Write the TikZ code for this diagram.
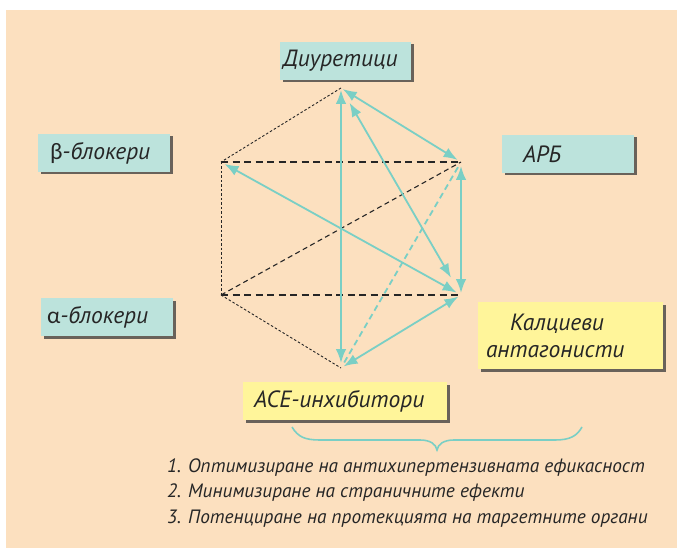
\documentclass[tikz,border=0pt]{standalone}
\usepackage{fontspec}
\setmainfont{PT Sans}
\newfontfamily\greekfont{Carlito}
\usetikzlibrary{arrows.meta,shadows}
\definecolor{peach}{HTML}{FCE0BF}
\definecolor{tealbox}{HTML}{BCE3DC}
\definecolor{yellowbox}{HTML}{FFF59A}
\definecolor{tealline}{HTML}{7ACFC5}
\definecolor{shadowgrey}{HTML}{5A5550}
\tikzset{
  lbl/.style={font=\itshape\fontsize{23.5}{27}\selectfont, text=black!85, inner xsep=0pt, inner ysep=0pt, align=left, anchor=center,
    drop shadow={shadow xshift=2.5pt, shadow yshift=-2.5pt, fill=shadowgrey, opacity=0.9}},
  tbox/.style={lbl, fill=tealbox},
  ybox/.style={lbl, fill=yellowbox},
  fine/.style={draw=black!85, line width=0.9pt, dash pattern=on 2.5pt off 2pt},
  bold/.style={draw=black!85, line width=1.6pt, dash pattern=on 7pt off 4.5pt},
  mid/.style={draw=black!85, line width=1.1pt, dash pattern=on 5pt off 3.5pt},
  arr/.style={draw=tealline, line width=1.8pt, {Latex[length=14pt,width=10.5pt]}-{Latex[length=14pt,width=10.5pt]}},
}
\begin{document}
\begin{tikzpicture}[x=1pt,y=-1pt]
\useasboundingbox (0,0) rectangle (677,548);
\fill[white] (0,0) rectangle (677,548);
\fill[peach] (6,10) rectangle (677,548);

% vertices
\coordinate (T) at (341,88);
\coordinate (UL) at (221,162);
\coordinate (UR) at (461,162);
\coordinate (LL) at (221,295);
\coordinate (LR) at (461,295);
\coordinate (B) at (341,368);

% boxes
\node[tbox, minimum height=38pt, text width=131pt] (diu) at (345.5,61) {\hspace*{3pt}Диуретици};
\node[tbox, minimum height=38pt, text width=132pt] (beta) at (104,153) {\hspace*{12pt}{\greekfont\upshape β}-блокери};
\node[tbox, minimum height=38pt, text width=132pt] (arb) at (568,154) {\hspace*{21pt}АРБ};
\node[tbox, minimum height=38pt, text width=132pt] (alpha) at (107,317) {\hspace*{6pt}{\greekfont\upshape α}-блокери};
\node[ybox, minimum height=67pt, text width=185pt] (calc) at (570.5,335.5) {\hspace*{32pt}Калциеви\\\hspace*{8pt}антагонисти};
\node[ybox, minimum height=38pt, text width=204pt] (ace) at (345,401) {\hspace*{11pt}ACE-инхибитори};

% black dashed edges
\draw[fine] (T) -- (UL);
\draw[fine] (UL) -- (LL);
\draw[fine] (LL) -- (B);
\draw[bold] (UL) -- (UR);
\draw[bold] (LL) -- (LR);
\draw[mid] (LL) -- (UR);

% teal connections
\draw[draw=tealline, line width=1.8pt, dash pattern=on 6pt off 4pt, shorten <=6pt, shorten >=4pt] (UR) -- (B);
\draw[arr, shorten <=2pt, shorten >=4pt] (T) -- (UR);
\draw[arr, shorten <=2pt, shorten >=5pt] (T) -- (B);
\draw[arr, shorten <=17pt, shorten >=20pt] (T) -- (LR);
\draw[arr, shorten <=4pt, shorten >=5pt] (UL) -- (LR);
\draw[arr, shorten <=4pt, shorten >=2pt] (UR) -- (LR);
\draw[arr, shorten <=3pt, shorten >=3pt] (LR) -- (B);

% brace
\draw[tealline, line width=1.6pt] (292,427) .. controls (298,437) and (305,440) .. (320,440) -- (420,440) .. controls (430,440) and (436,444) .. (437,450) .. controls (438,444) and (444,440) .. (454,440) -- (555,440) .. controls (570,440) and (577,436) .. (582,427);

% list
\node[font=\itshape\fontsize{19.3}{25.5}\selectfont, text=black!85, align=left, anchor=west, inner sep=0pt] (list) at (167,493)
 {1. Оптимизиране на антихипертензивната ефикасност\\2. Минимизиране на страничните ефекти\\3. Потенциране на протекцията на таргетните органи};
\end{tikzpicture}
\end{document}
